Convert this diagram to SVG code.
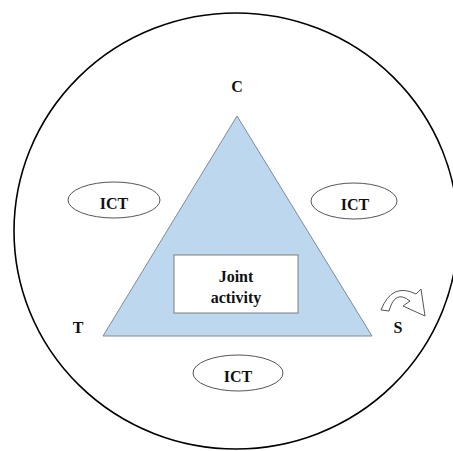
<svg xmlns="http://www.w3.org/2000/svg" width="453" height="451" viewBox="0 0 453 451">
  <style>
    .lbl { font-family: "Liberation Serif", "Times New Roman", serif; font-weight: bold; font-size: 16px; fill: #111; text-anchor: middle; }
    .ict { fill: #fff; stroke: #555; stroke-width: 1; }
  </style>
  <rect width="453" height="451" fill="#fff"/>
  <!-- outer boundary -->
  <g id="boundary">
    <ellipse cx="236" cy="231" rx="222" ry="218" fill="none" stroke="#000" stroke-width="1.6"/>
  </g>
  <!-- activity triangle -->
  <g id="triangle">
    <polygon points="237,116 103,336 372,336" fill="#bdd7ee" stroke="#7f8c99" stroke-width="1"/>
  </g>
  <g id="joint-activity">
    <rect x="174" y="255" width="124" height="58" fill="#fff" stroke="#7f7f7f" stroke-width="1"/>
    <text class="lbl" x="236" y="282">Joint</text>
    <text class="lbl" x="236" y="303">activity</text>
  </g>
  <g id="label-C"><text class="lbl" x="237" y="92">C</text></g>
  <g id="label-T"><text class="lbl" x="78" y="333">T</text></g>
  <g id="label-S"><text class="lbl" x="398" y="333">S</text></g>
  <g id="ict-left">
    <ellipse class="ict" cx="114" cy="200" rx="46" ry="18"/>
    <text class="lbl" x="114" y="209">ICT</text>
  </g>
  <g id="ict-right">
    <ellipse class="ict" cx="354" cy="201" rx="43" ry="18"/>
    <text class="lbl" x="355" y="210">ICT</text>
  </g>
  <g id="ict-bottom">
    <ellipse class="ict" cx="238" cy="373" rx="45" ry="18"/>
    <text class="lbl" x="238" y="382">ICT</text>
  </g>
  <!-- curved arrow beside S -->
  <g id="connectors">
    <path d="M 381 310 Q 392 282 416 294 L 421 289 L 425 316 L 403 306 L 410 301 Q 395 289 389 311 Z" fill="#fff" stroke="#555" stroke-width="1"/>
  </g>
</svg>
